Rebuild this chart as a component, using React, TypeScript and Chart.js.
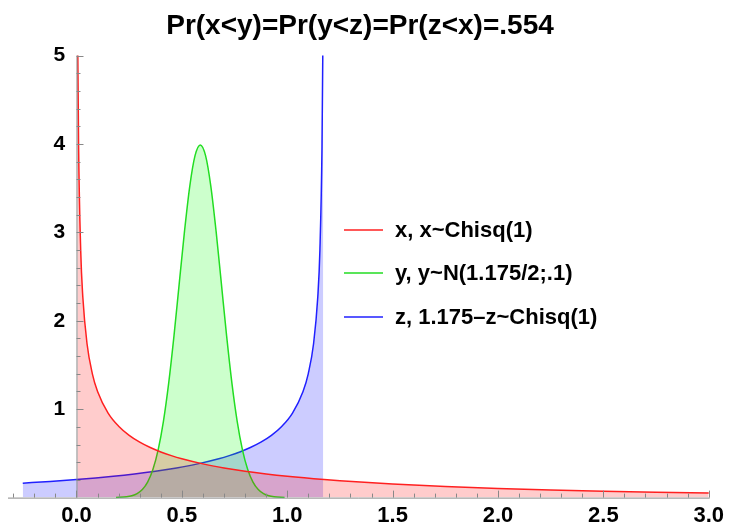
import React, { useEffect, useRef } from "react";
import { Chart, registerables } from "chart.js";

Chart.register(...registerables);

const TITLE = "Pr(x<y)=Pr(y<z)=Pr(z<x)=.554";
const LEGEND_LABELS = ["x, x~Chisq(1)", "y, y~N(1.175/2;.1)", "z, 1.175–z~Chisq(1)"];

// x ~ Chisq(1) density
const redX = [0.004, 0.0064, 0.01, 0.02, 0.03, 0.05, 0.075, 0.1, 0.15, 0.2, 0.25, 0.3, 0.35, 0.4, 0.45, 0.5, 0.6, 0.7, 0.8, 0.9, 1.0, 1.175, 1.25, 1.5, 1.75, 2.0, 2.25, 2.5, 2.75, 3.0];
const redY = [6.295, 4.971, 3.969, 2.793, 2.269, 1.74, 1.403, 1.2, 0.9556, 0.8072, 0.7041, 0.6269, 0.5661, 0.5164, 0.4749, 0.4394, 0.3815, 0.336, 0.299, 0.2681, 0.242, 0.2045, 0.191, 0.1539, 0.1257, 0.1038, 0.0864, 0.0723, 0.0608, 0.0514];

// y ~ N(0.5875, 0.1) density
const greenX = [0.1875, 0.2375, 0.2625, 0.2875, 0.3125, 0.3375, 0.3625, 0.3875, 0.4125, 0.4375, 0.4625, 0.4875, 0.5125, 0.5375, 0.5625, 0.5875, 0.6125, 0.6375, 0.6625, 0.6875, 0.7125, 0.7375, 0.7625, 0.7875, 0.8125, 0.8375, 0.8625, 0.8875, 0.9125, 0.9375, 0.9875];
const greenY = [0.0013, 0.0087, 0.0203, 0.0443, 0.0909, 0.1753, 0.3175, 0.54, 0.863, 1.295, 1.826, 2.42, 3.011, 3.521, 3.867, 3.989, 3.867, 3.521, 3.011, 2.42, 1.826, 1.295, 0.863, 0.54, 0.3175, 0.1753, 0.0909, 0.0443, 0.0203, 0.0087, 0.0013];

// z, 1.175 - z ~ Chisq(1) density
const blueX = [-0.255, -0.125, 0.0, 0.175, 0.275, 0.375, 0.475, 0.575, 0.675, 0.725, 0.775, 0.825, 0.875, 0.925, 0.975, 1.025, 1.075, 1.1, 1.125, 1.145, 1.155, 1.165, 1.1686, 1.171];
const blueY = [0.1632, 0.1826, 0.2045, 0.242, 0.2681, 0.299, 0.336, 0.3815, 0.4394, 0.4749, 0.5164, 0.5661, 0.6269, 0.7041, 0.8072, 0.9556, 1.2, 1.403, 1.74, 2.269, 2.793, 3.969, 4.971, 6.295];

const X_MIN = -0.325;
const X_MAX = 3.0;
const Y_MIN = 0;
const Y_MAX = 5;

const FONT = "'Liberation Sans', Arial, sans-serif";

const toPoints = (xs: number[], ys: number[]) => xs.map((x, i) => ({ x, y: ys[i] }));

const axesPlugin = {
  id: "mmaAxes",
  afterDatasetsDraw(chart: any) {
    const { ctx, scales } = chart;
    const xs = scales.x;
    const ys = scales.y;
    const y0 = ys.getPixelForValue(0);
    const x0 = xs.getPixelForValue(0);
    ctx.save();
    ctx.strokeStyle = "#888888";
    ctx.lineWidth = 1;
    ctx.beginPath();
    ctx.moveTo(xs.left, y0 + 0.5);
    ctx.lineTo(xs.getPixelForValue(X_MAX) + 1, y0 + 0.5);
    ctx.moveTo(x0 + 0.5, y0);
    ctx.lineTo(x0 + 0.5, ys.getPixelForValue(Y_MAX));
    // x ticks (every 0.1, major every 0.5)
    for (let i = -3; i <= 30; i++) {
      const px = Math.round(xs.getPixelForValue(i / 10)) + 0.5;
      const len = i % 5 === 0 ? 7 : 4;
      ctx.moveTo(px, y0);
      ctx.lineTo(px, y0 - len);
    }
    // y ticks (every 0.2, major every 1)
    for (let j = 1; j <= 25; j++) {
      const py = Math.round(ys.getPixelForValue(j / 5)) + 0.5;
      const len = j % 5 === 0 ? 7 : 4;
      ctx.moveTo(x0, py);
      ctx.lineTo(x0 + len, py);
    }
    ctx.stroke();
    ctx.restore();
  },
};

const legendPlugin = {
  id: "mmaLegend",
  afterDraw(chart: any) {
    const { ctx } = chart;
    const colors = ["#ff2020", "#22dd22", "#2020ff"];
    const rowsY = [230, 273, 317];
    ctx.save();
    ctx.font = `bold 22px ${FONT}`;
    ctx.textBaseline = "middle";
    ctx.textAlign = "left";
    LEGEND_LABELS.forEach((label, i) => {
      ctx.strokeStyle = colors[i];
      ctx.lineWidth = 1.5;
      ctx.beginPath();
      ctx.moveTo(344, rowsY[i]);
      ctx.lineTo(383, rowsY[i]);
      ctx.stroke();
      ctx.fillStyle = "#000000";
      ctx.fillText(label, 395, rowsY[i] + 1);
    });
    ctx.restore();
  },
};

export default function App() {
  const canvasRef = useRef<HTMLCanvasElement | null>(null);

  useEffect(() => {
    document.body.style.margin = "0";
    const canvas = canvasRef.current;
    if (!canvas) return;
    const common = {
      pointRadius: 0,
      borderWidth: 1.5,
      fill: "origin",
      cubicInterpolationMode: "monotone" as const,
      clip: { left: 1, right: 1, top: 0, bottom: 1 },
    };
    const chart = new Chart(canvas, {
      type: "line",
      data: {
        datasets: [
          {
            ...common,
            label: LEGEND_LABELS[0],
            data: toPoints(redX, redY),
            borderColor: "#ff2020",
            backgroundColor: "rgba(255,0,0,0.2)",
          },
          {
            ...common,
            label: LEGEND_LABELS[1],
            data: toPoints(greenX, greenY),
            borderColor: "#22dd22",
            backgroundColor: "rgba(0,255,0,0.2)",
          },
          {
            ...common,
            label: LEGEND_LABELS[2],
            data: toPoints(blueX, blueY),
            borderColor: "#2020ff",
            backgroundColor: "rgba(0,0,255,0.2)",
          },
        ],
      },
      options: {
        animation: false,
        responsive: true,
        maintainAspectRatio: false,
        layout: { padding: { left: 8, right: 17, top: 0, bottom: -5 } },
        plugins: {
          legend: { display: false },
          tooltip: { enabled: false },
          title: {
            display: true,
            text: TITLE,
            color: "#000000",
            font: { family: FONT, size: 28, weight: "bold" },
            padding: { top: 9.5, bottom: 12.4 },
          },
        },
        scales: {
          x: {
            type: "linear",
            position: "bottom",
            min: X_MIN,
            max: X_MAX,
            grid: { display: false, drawTicks: false },
            border: { display: false },
            ticks: {
              stepSize: 0.1,
              autoSkip: false,
              includeBounds: false,
              maxRotation: 0,
              padding: 5,
              color: "#000000",
              font: { family: FONT, size: 22, weight: "bold" },
              callback: (v: any) => {
                const n = Number(v);
                if (n < -1e-9) return "";
                if (Math.abs(n * 2 - Math.round(n * 2)) > 1e-6) return "";
                return n.toFixed(1);
              },
            },
          },
          y: {
            type: "linear",
            position: { x: -0.054 } as any,
            min: Y_MIN,
            max: Y_MAX,
            grid: { display: false, drawTicks: false },
            border: { display: false },
            ticks: {
              stepSize: 1,
              color: "#000000",
              font: { family: FONT, size: 21, weight: "bold" },
              callback: (v: any) => (Number(v) === 0 ? "" : String(v)),
            },
          },
        },
      },
      plugins: [axesPlugin, legendPlugin],
    });
    return () => chart.destroy();
  }, []);

  return (
    <div style={{ position: "absolute", left: 0, top: 0, width: 729, height: 529 }}>
      <canvas ref={canvasRef} />
    </div>
  );
}
